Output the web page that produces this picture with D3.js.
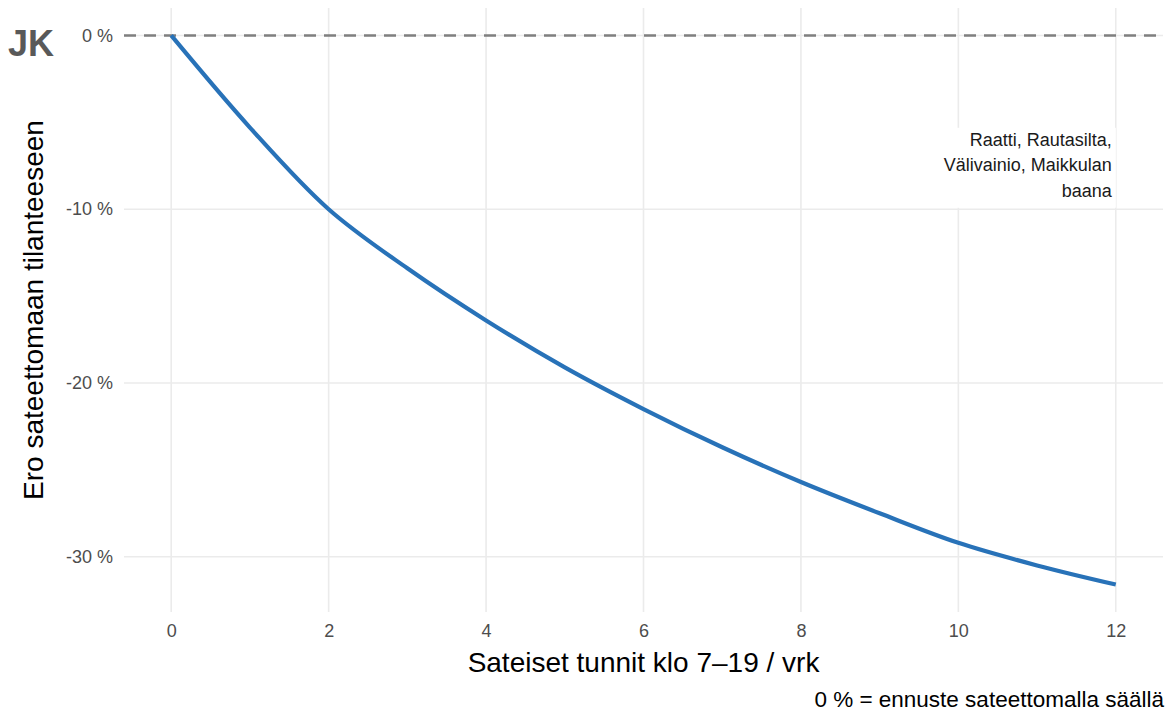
<!DOCTYPE html>
<html>
<head>
<meta charset="utf-8">
<script src="https://cdn.jsdelivr.net/npm/d3@7"></script>
<style>
  html, body { margin: 0; padding: 0; background: #fff; }
  svg { display: block; font-family: Arial, "Liberation Sans", sans-serif; }
</style>
</head>
<body>
<svg id="chart" width="1171" height="713"></svg>
<script>
// Data
const hours = [0, 1, 2, 3, 4, 5, 6, 7, 8, 9, 10, 11, 12];
const diffPct = [0, -5.3, -10.0, -13.4, -16.4, -19.1, -21.5, -23.7, -25.7, -27.5, -29.2, -30.5, -31.6];
const xTicks = [0, 2, 4, 6, 8, 10, 12];
const yTicks = [0, -10, -20, -30];
const xTitle = "Sateiset tunnit klo 7–19 / vrk";
const yTitle = "Ero sateettomaan tilanteeseen";
const caption = "0 % = ennuste sateettomalla säällä";
const annotationLines = ["Raatti, Rautasilta,", "Välivainio, Maikkulan", "baana"];
const logoText = "JK";

const svg = d3.select("#chart");
const panel = { left: 124, right: 1163, top: 8, bottom: 612 };

const x = d3.scaleLinear().domain([-0.6, 12.6]).range([panel.left, panel.right]);
const y = d3.scaleLinear().domain([-33.18, 1.58]).range([panel.bottom, panel.top]);

// Grid
const grid = svg.append("g");
grid.selectAll("line.v").data(xTicks).enter().append("line")
  .attr("x1", d => x(d)).attr("x2", d => x(d))
  .attr("y1", panel.top).attr("y2", panel.bottom)
  .attr("stroke", "#ebebeb").attr("stroke-width", 1.6);
grid.selectAll("line.h").data(yTicks).enter().append("line")
  .attr("x1", panel.left).attr("x2", panel.right)
  .attr("y1", d => y(d)).attr("y2", d => y(d))
  .attr("stroke", "#ebebeb").attr("stroke-width", 1.6);

// Axes (labels only)
const xAxis = d3.axisBottom(x).tickValues(xTicks).tickSize(0).tickPadding(0).tickFormat(d3.format("d"));
const gx = svg.append("g").attr("transform", `translate(0,${panel.bottom + 12})`).call(xAxis);
gx.select(".domain").remove();
gx.selectAll("text").attr("fill", "#4d4d4d").attr("font-size", 18).attr("dy", "0.71em")
  .attr("font-family", "Arial, 'Liberation Sans', sans-serif");

const yAxis = d3.axisLeft(y).tickValues(yTicks).tickSize(0).tickPadding(0).tickFormat(d => d + " %");
const gy = svg.append("g").attr("transform", `translate(${panel.left - 11},0)`).call(yAxis);
gy.select(".domain").remove();
gy.selectAll("text").attr("fill", "#4d4d4d").attr("font-size", 18)
  .attr("font-family", "Arial, 'Liberation Sans', sans-serif");

// Zero reference line
svg.append("line")
  .attr("x1", panel.left).attr("x2", panel.right)
  .attr("y1", y(0)).attr("y2", y(0))
  .attr("stroke", "#7f7f7f").attr("stroke-width", 2.4)
  .attr("stroke-dasharray", "12,8");

// Curve
const line = d3.line().x((d, i) => x(hours[i])).y(d => y(d)).curve(d3.curveCatmullRom.alpha(0.5));
svg.append("path").datum(diffPct)
  .attr("d", line)
  .attr("fill", "none")
  .attr("stroke", "#2872b8")
  .attr("stroke-width", 4.2)
  .attr("stroke-linecap", "butt");

// Annotation with white background
const annX = x(11.95);
const annY0 = y(-6.35);
const lh = 25.5;
svg.append("rect")
  .attr("x", annX - 170).attr("y", annY0 - 18)
  .attr("width", 174).attr("height", 80)
  .attr("fill", "#fff");
svg.append("g").selectAll("text").data(annotationLines).enter().append("text")
  .attr("x", annX).attr("y", (d, i) => annY0 + i * lh)
  .attr("text-anchor", "end").attr("font-size", 18)
  .attr("fill", "#1a1a1a")
  .text(d => d);

// Titles
svg.append("text")
  .attr("x", (panel.left + panel.right) / 2).attr("y", 672)
  .attr("text-anchor", "middle").attr("font-size", 28).attr("fill", "#000")
  .text(xTitle);

svg.append("text")
  .attr("transform", `translate(43,${(panel.top + panel.bottom) / 2}) rotate(-90)`)
  .attr("text-anchor", "middle").attr("font-size", 28).attr("fill", "#000")
  .text(yTitle);

svg.append("text")
  .attr("x", 1164).attr("y", 707)
  .attr("text-anchor", "end").attr("font-size", 22.5).attr("fill", "#000")
  .text(caption);

svg.append("text")
  .attr("x", 8).attr("y", 56)
  .attr("font-size", 36).attr("font-weight", "bold").attr("fill", "#595959")
  .text(logoText);
</script>
</body>
</html>
